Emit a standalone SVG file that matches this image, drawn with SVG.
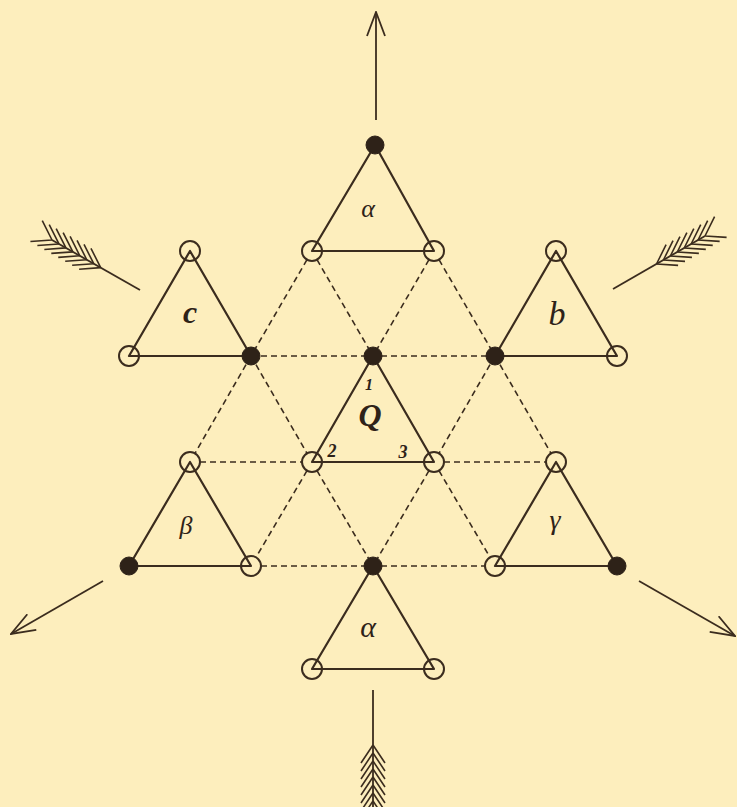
<svg xmlns="http://www.w3.org/2000/svg" width="737" height="807" viewBox="0 0 737 807">
<style>
.tri{fill:none;stroke:#3b2c1e;stroke-width:2.2;stroke-linejoin:round}
.open{fill:none;stroke:#3b2c1e;stroke-width:2}
.dot{fill:#2e2218;stroke:#2e2218;stroke-width:1}
.dash{fill:none;stroke:#3b2c1e;stroke-width:1.6;stroke-dasharray:6 4}
.shaft{fill:none;stroke:#3b2c1e;stroke-width:1.8}
.lbl{font-family:"Liberation Serif","DejaVu Serif",serif;font-style:italic;fill:#2e2218;text-anchor:middle}
</style>
<defs>
<marker id="ah" markerWidth="26" markerHeight="20" refX="25" refY="10" orient="auto" markerUnits="userSpaceOnUse" viewBox="0 0 26 20">
<path d="M1,1 L25,10 L1,19" fill="none" stroke="#3b2c1e" stroke-width="1.8"/>
</marker>
<g id="fletch" fill="none" stroke="#3b2c1e" stroke-width="1.6">
<path d="M0,0 l-18,-12 M0,0 l-18,12 M8,0 l-18,-12 M8,0 l-18,12 M16,0 l-18,-12 M16,0 l-18,12 M24,0 l-18,-12 M24,0 l-18,12 M32,0 l-18,-12 M32,0 l-18,12 M40,0 l-18,-12 M40,0 l-18,12 M48,0 l-18,-12 M48,0 l-18,12 M56,0 l-18,-12 M56,0 l-18,12"/>
</g>
</defs>
<rect x="0" y="0" width="737" height="807" fill="#fdeebd"/>

<g id="connectors">
<!-- dashed lattice -->
<path class="dash" d="M251,356 H495 M200,462 H302 M444,462 H546 M261,566 H485"/>
<path class="dash" d="M307,259.7 L251,356 M317,259.7 L373,356 M429,259.7 L373,356 M439,259.7 L495,356"/>
<path class="dash" d="M251,356 L195,453.3 M251,356 L307,453.3 M495,356 L439,453.3 M495,356 L551,453.3"/>
<path class="dash" d="M307,470.7 L256,557.3 M317,470.7 L373,566 M429,470.7 L373,566 M439,470.7 L490,557.3"/>
<!-- arrows -->
<line class="shaft" x1="376" y1="120" x2="376" y2="12" marker-end="url(#ah)"/>
<line class="shaft" x1="103" y1="581" x2="11" y2="634" marker-end="url(#ah)"/>
<line class="shaft" x1="639" y1="581" x2="735" y2="636" marker-end="url(#ah)"/>
<line class="shaft" x1="140" y1="290" x2="52" y2="240"/>
<use href="#fletch" transform="translate(52,240) rotate(29.6)"/>
<line class="shaft" x1="613" y1="289" x2="705" y2="236"/>
<use href="#fletch" transform="translate(705,236) rotate(150)"/>
<line class="shaft" x1="373" y1="690" x2="373" y2="807"/>
<use href="#fletch" transform="translate(373,801) rotate(-90)"/>
</g>

<g id="tri-alpha-top">
<path class="tri" d="M375,145 L312,251 L434,251 Z"/>
<circle class="dot" cx="375" cy="145" r="9"/>
<circle class="open" cx="312" cy="251" r="10"/>
<circle class="open" cx="434" cy="251" r="10"/>
<text class="lbl" x="368" y="217" font-size="26">α</text>
</g>

<g id="tri-c">
<path class="tri" d="M190,251 L129,356 L251,356 Z"/>
<circle class="open" cx="190" cy="251" r="10"/>
<circle class="open" cx="129" cy="356" r="10"/>
<circle class="dot" cx="251" cy="356" r="9"/>
<text class="lbl" x="190" y="323" font-size="32" font-weight="bold">c</text>
</g>

<g id="tri-b">
<path class="tri" d="M556,251 L495,356 L617,356 Z"/>
<circle class="open" cx="556" cy="251" r="10"/>
<circle class="open" cx="617" cy="356" r="10"/>
<circle class="dot" cx="495" cy="356" r="9"/>
<text class="lbl" x="557" y="325" font-size="34">b</text>
</g>

<g id="tri-Q">
<path class="tri" d="M373,356 L312,462 L434,462 Z"/>
<circle class="dot" cx="373" cy="356" r="9"/>
<circle class="open" cx="312" cy="462" r="10"/>
<circle class="open" cx="434" cy="462" r="10"/>
<text class="lbl" x="370" y="426" font-size="32" font-weight="bold">Q</text>
<text class="lbl" x="369" y="390" font-size="16" font-weight="bold">1</text>
<text class="lbl" x="332" y="457" font-size="18" font-weight="bold">2</text>
<text class="lbl" x="403" y="458" font-size="18" font-weight="bold">3</text>
</g>

<g id="tri-beta">
<path class="tri" d="M190,462 L129,566 L251,566 Z"/>
<circle class="open" cx="190" cy="462" r="10"/>
<circle class="dot" cx="129" cy="566" r="9"/>
<circle class="open" cx="251" cy="566" r="10"/>
<text class="lbl" x="186" y="534" font-size="26">β</text>
</g>

<g id="tri-gamma">
<path class="tri" d="M556,462 L495,566 L617,566 Z"/>
<circle class="open" cx="556" cy="462" r="10"/>
<circle class="open" cx="495" cy="566" r="10"/>
<circle class="dot" cx="617" cy="566" r="9"/>
<text class="lbl" x="555" y="529" font-size="28">γ</text>
</g>

<g id="tri-alpha-bottom">
<path class="tri" d="M373,566 L312,669 L434,669 Z"/>
<circle class="dot" cx="373" cy="566" r="9"/>
<circle class="open" cx="312" cy="669" r="10"/>
<circle class="open" cx="434" cy="669" r="10"/>
<text class="lbl" x="368" y="637" font-size="30">α</text>
</g>
</svg>
